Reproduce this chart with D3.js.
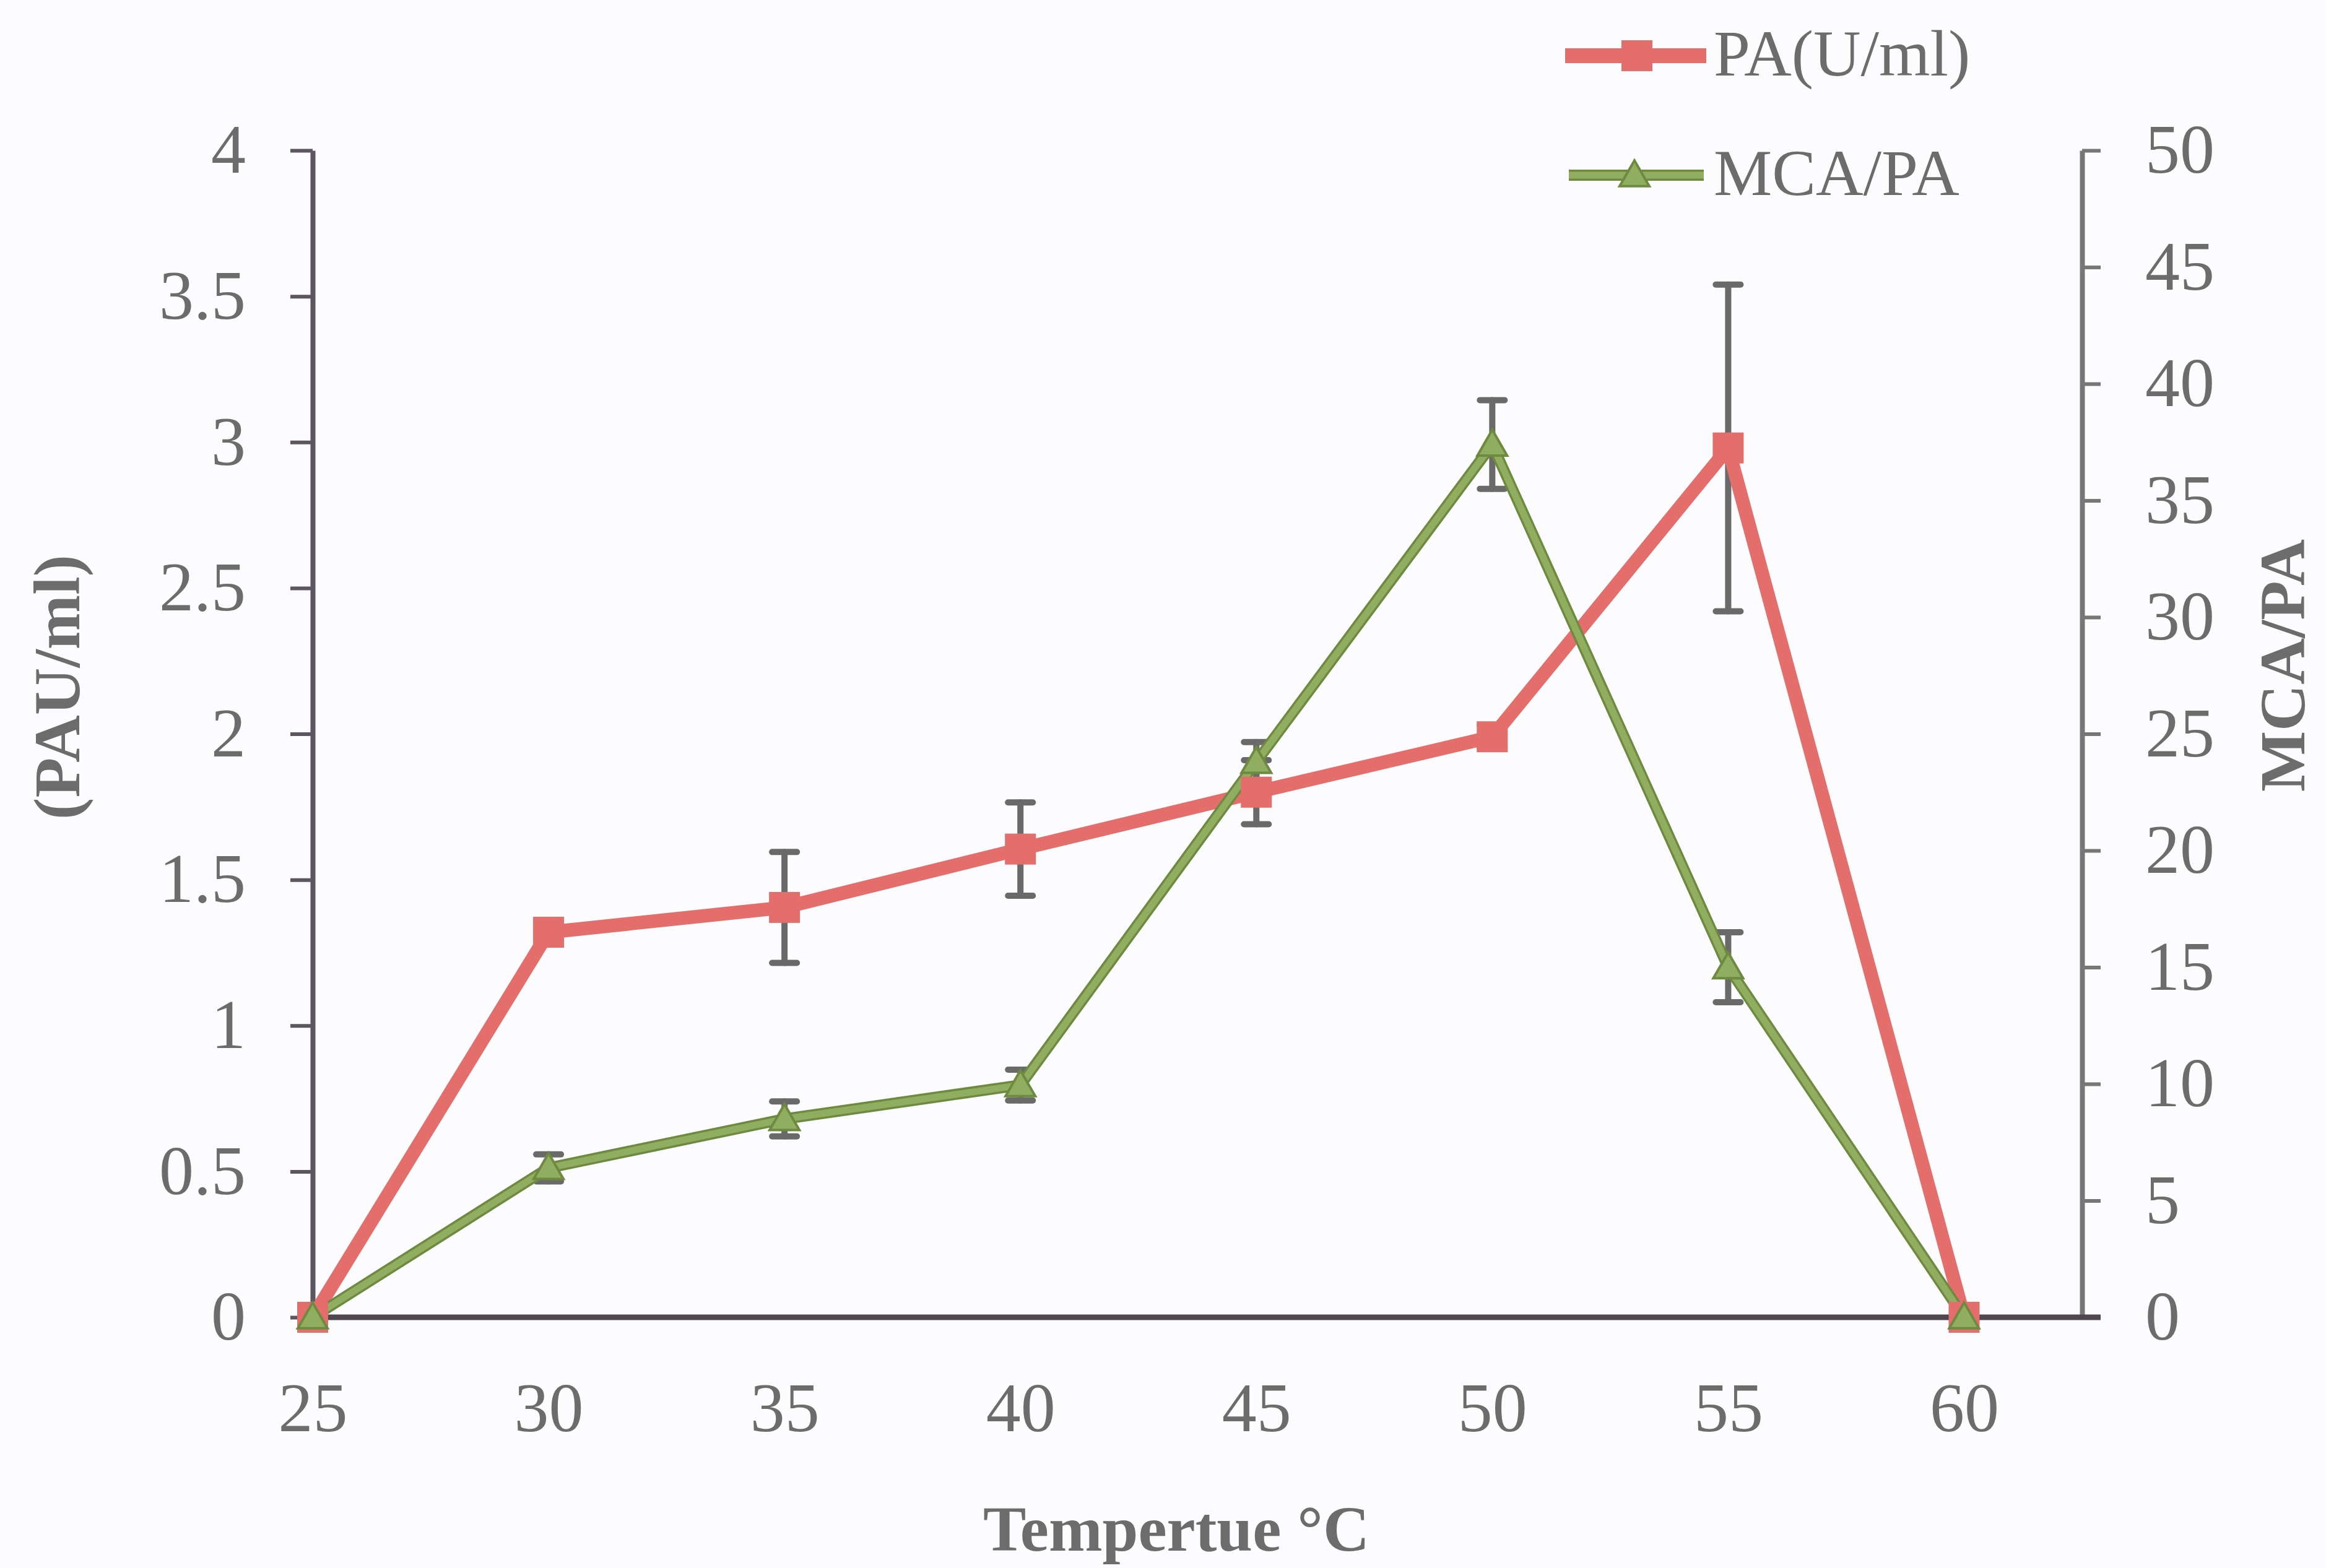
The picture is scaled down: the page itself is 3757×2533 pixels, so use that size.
<!DOCTYPE html>
<html>
<head>
<meta charset="utf-8">
<script src="https://cdn.jsdelivr.net/npm/d3@7"></script>
<style>
body{margin:0;background:#fcfbfd;}
</style>
</head>
<body>
<div id="viz"></div>
<script>
//Data

let temps = [25, 30, 35, 40, 45, 50, 55, 60]
let paValues = [0, 1.32, 1.405, 1.605, 1.80, 1.99, 2.98, 0]
let paErrors = [0, 0, 0.19, 0.16, 0.11, 0.04, 0.56, 0]
let mcaValues = [0, 6.4, 8.5, 9.95, 23.8, 37.4, 15.0, 0]
let mcaErrors = [0, 0.58, 0.75, 0.66, 0.85, 1.9, 1.5, 0]

let xTicks = [25, 30, 35, 40, 45, 50, 55, 60]
let leftTicks = [0, 0.5, 1, 1.5, 2, 2.5, 3, 3.5, 4]
let rightTicks = [0, 5, 10, 15, 20, 25, 30, 35, 40, 45, 50]
let seriesNames = ["PA(U/ml)", "MCA/PA"]
let axisTitles = ["Tempertue °C", "(PAU/ml)", "MCA/PA"]

//Visualization Settings

let width = 3757
let height = 2533
let font = "'Liberation Serif', 'Times New Roman', serif"
let textColor = "#6c6c6c"
let red = "#e36e6b"
let greenDark = "#6d8a40"
let greenLight = "#91ad60"
let errColor = "#6a6a6a"

let x = d3.scaleLinear().domain([25, 62.5]).range([505, 3363])
let yLeft = d3.scaleLinear().domain([0, 4]).range([2128, 243])
let yRight = d3.scaleLinear().domain([0, 50]).range([2128, 243])

let svg = d3.select('#viz').append('svg').attr("width", width).attr("height", height)
svg.append("rect").attr("width", width).attr("height", height).attr("fill", "#fcfbfd")

//Axes
let leftAxis = svg.append("g").attr("transform", `translate(${x(25)},0)`)
    .call(d3.axisLeft(yLeft).tickValues(leftTicks).tickFormat(d => d).tickSizeInner(36).tickSizeOuter(0).tickPadding(72))
leftAxis.select(".domain").attr("stroke", "#5d5560").attr("stroke-width", 8)
leftAxis.selectAll(".tick line").attr("stroke", "#5d5560").attr("stroke-width", 6)

let rightAxis = svg.append("g").attr("transform", `translate(${x(62.5)},0)`)
    .call(d3.axisRight(yRight).tickValues(rightTicks).tickSizeInner(30).tickSizeOuter(0).tickPadding(72))
rightAxis.select(".domain").attr("stroke", "#777").attr("stroke-width", 8)
rightAxis.selectAll(".tick line").attr("stroke", "#777").attr("stroke-width", 6)

let bottomAxis = svg.append("g").attr("transform", `translate(0,${yLeft(0)})`)
    .call(d3.axisBottom(x).tickValues(xTicks).tickSize(0).tickPadding(104))
bottomAxis.select(".domain").remove()
svg.append("line").attr("x1", x(25) - 4).attr("x2", x(62.5) + 30).attr("y1", yLeft(0)).attr("y2", yLeft(0))
    .attr("stroke", "#4f4650").attr("stroke-width", 9)

svg.selectAll(".tick text").attr("font-family", font).attr("font-size", 112).attr("fill", textColor)

//Axis titles
svg.append("text").text(axisTitles[0]).attr("x", 1900).attr("y", 2505).attr("text-anchor", "middle")
    .attr("font-family", font).attr("font-weight", "bold").attr("font-size", 104).attr("fill", textColor)
svg.append("text").text(axisTitles[1]).attr("transform", "translate(128,1110) rotate(-90)").attr("text-anchor", "middle")
    .attr("font-family", font).attr("font-weight", "bold").attr("font-size", 106).attr("fill", textColor)
svg.append("text").text(axisTitles[2]).attr("transform", "translate(3722,1075) rotate(-90)").attr("text-anchor", "middle")
    .attr("font-family", font).attr("font-weight", "bold").attr("font-size", 104).attr("fill", textColor)

//Error bars
function errorBars(values, errors, y){
    let g = svg.append("g").attr("stroke", errColor).attr("stroke-width", 10).attr("stroke-linecap", "round")
    for(let i=0;i<temps.length;i++){
        if(errors[i]==0){continue}
        let cx = x(temps[i])
        let top = y(values[i] + errors[i])
        let bot = y(values[i] - errors[i])
        g.append("line").attr("x1", cx).attr("x2", cx).attr("y1", top).attr("y2", bot)
        g.append("line").attr("x1", cx - 20).attr("x2", cx + 20).attr("y1", top).attr("y2", top)
        g.append("line").attr("x1", cx - 20).attr("x2", cx + 20).attr("y1", bot).attr("y2", bot)
    }
}
errorBars(paValues, paErrors, yLeft)
errorBars(mcaValues, mcaErrors, yRight)

//Lines
let paLine = d3.line().x((d, i) => x(temps[i])).y(d => yLeft(d))
let mcaLine = d3.line().x((d, i) => x(temps[i])).y(d => yRight(d))

svg.append("path").attr("d", paLine(paValues)).attr("fill", "none").attr("stroke", red)
    .attr("stroke-width", 22).attr("stroke-linejoin", "miter")
svg.append("path").attr("d", mcaLine(mcaValues)).attr("fill", "none").attr("stroke", greenDark)
    .attr("stroke-width", 18)
svg.append("path").attr("d", mcaLine(mcaValues)).attr("fill", "none").attr("stroke", greenLight)
    .attr("stroke-width", 11)

//Markers
let tri = d3.symbol().type(d3.symbolTriangle).size(1000)
function square(g, cx, cy){
    g.append("rect").attr("x", cx - 25).attr("y", cy - 25).attr("width", 50).attr("height", 50).attr("fill", red)
}
function triangle(g, cx, cy){
    g.append("path").attr("d", tri()).attr("transform", `translate(${cx},${cy + 4})`)
        .attr("fill", greenLight).attr("stroke", greenDark).attr("stroke-width", 4)
}
let markers = svg.append("g")
for(let i=0;i<temps.length;i++){
    square(markers, x(temps[i]), yLeft(paValues[i]))
}
for(let i=0;i<temps.length;i++){
    triangle(markers, x(temps[i]), yRight(mcaValues[i]))
}

//Legend
let legend = svg.append("g")
legend.append("line").attr("x1", 2528).attr("x2", 2756).attr("y1", 90).attr("y2", 90).attr("stroke", red).attr("stroke-width", 24)
square(legend, 2644, 90)
legend.append("text").text(seriesNames[0]).attr("x", 2768).attr("y", 122)
    .attr("font-family", font).attr("font-size", 106).attr("fill", textColor)

legend.append("line").attr("x1", 2534).attr("x2", 2752).attr("y1", 283).attr("y2", 283).attr("stroke", greenDark).attr("stroke-width", 18)
legend.append("line").attr("x1", 2534).attr("x2", 2752).attr("y1", 283).attr("y2", 283).attr("stroke", greenLight).attr("stroke-width", 11)
triangle(legend, 2640, 283)
legend.append("text").text(seriesNames[1]).attr("x", 2768).attr("y", 315)
    .attr("font-family", font).attr("font-size", 106).attr("fill", textColor)
</script>
</body>
</html>
